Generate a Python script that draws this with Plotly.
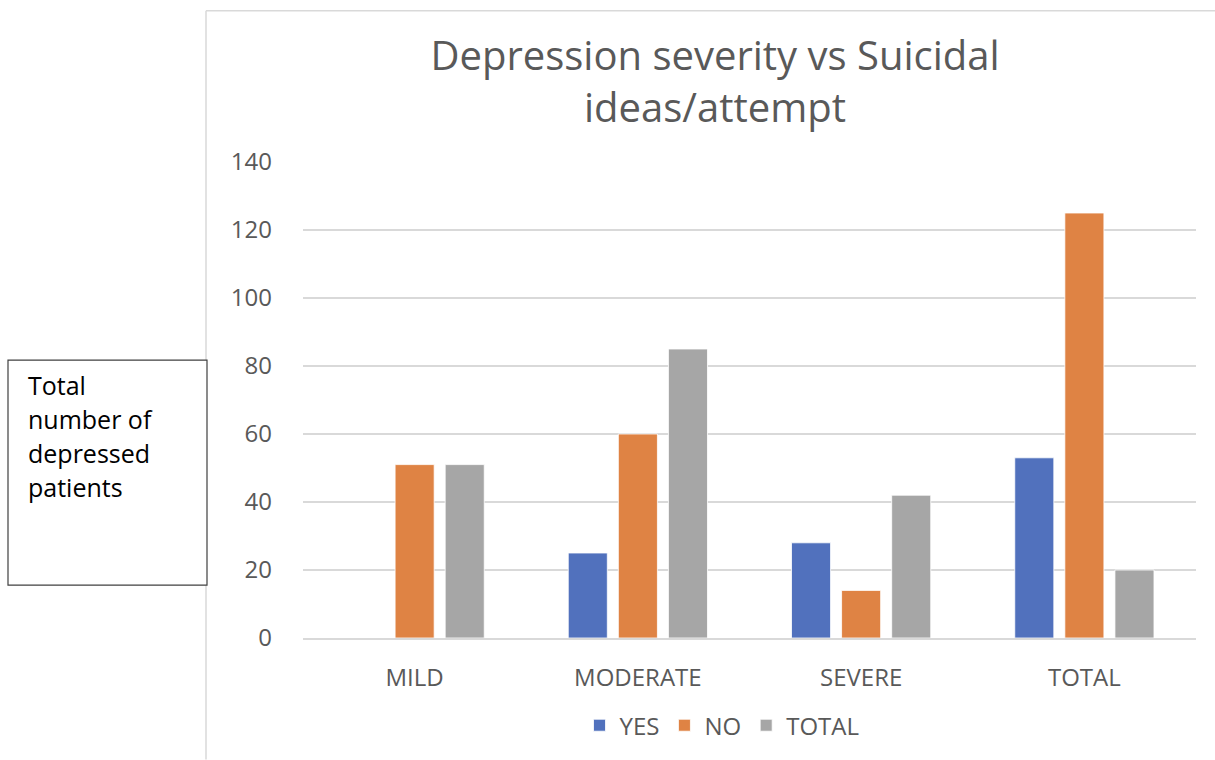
import plotly.graph_objects as go

# Depression severity groups and suicidal ideas/attempt counts
categories = ["MILD", "MODERATE", "SEVERE", "TOTAL"]
yes_counts = [0, 25, 28, 53]
no_counts = [51, 60, 14, 125]
total_counts = [51, 85, 42, 20]

series_names = ["YES", "NO", "TOTAL"]
series_colors = ["#5171BD", "#DF8344", "#A6A6A6"]

y_ticks = [0, 20, 40, 60, 80, 100, 120, 140]

box_lines = ["Total", "number of", "depressed", "patients"]

W, H = 1215, 760
L, R, T, B = 303, 19, 162, 120
pw, ph = W - L - R, H - T - B


def px_x(x):
    return (x - L) / pw


def px_y(y):
    return (H - B - y) / ph


TEXT = "#595959"
FONT = "Open Sans, DejaVu Sans, sans-serif"

fig = go.Figure()
for name, vals, col in zip(series_names, [yes_counts, no_counts, total_counts], series_colors):
    fig.add_trace(go.Bar(
        name=name, x=categories, y=vals,
        marker=dict(color=col, line=dict(color="white", width=0.8)),
    ))

fig.update_layout(
    width=W, height=H,
    margin=dict(l=L, r=R, t=T, b=B),
    paper_bgcolor="white", plot_bgcolor="white",
    barmode="group", bargap=0.327, bargroupgap=0.22,
    font=dict(family=FONT, color=TEXT),
    title=dict(
        text="Depression severity vs Suicidal<br>ideas/attempt",
        x=px_x(715), xanchor="center", xref="paper",
        y=1 - 70 / H, yanchor="middle", yref="container",
        font=dict(size=40, color=TEXT, family=FONT),
    ),
    xaxis=dict(
        showgrid=False, showline=True, linecolor="#D9D9D9", linewidth=1.5,
        ticks="", tickfont=dict(size=24, color=TEXT), ticklabelstandoff=17,
    ),
    yaxis=dict(
        range=[0, 140], tickvals=y_ticks, showgrid=True, gridcolor="#D9D9D9",
        gridwidth=1.5, zeroline=False, showline=False, ticks="",
        tickfont=dict(size=24, color=TEXT), ticklabelstandoff=30,
    ),
    showlegend=True,
    legend=dict(
        orientation="h", x=px_x(722), xanchor="center", y=px_y(728), yanchor="middle",
        font=dict(size=24, color=TEXT), itemwidth=30, bgcolor="rgba(0,0,0,0)",
        traceorder="normal",
    ),
)

# chart-area frame edges
fig.add_shape(type="line", xref="paper", yref="paper",
              x0=px_x(206), x1=px_x(206), y0=px_y(10), y1=px_y(762),
              line=dict(color="#D9D9D9", width=1.5))
fig.add_shape(type="line", xref="paper", yref="paper",
              x0=px_x(206), x1=px_x(1216), y0=px_y(10), y1=px_y(10),
              line=dict(color="#D9D9D9", width=1.5))

# axis caption box
fig.add_shape(type="rect", xref="paper", yref="paper",
              x0=px_x(8), x1=px_x(207), y0=px_y(361), y1=px_y(587),
              line=dict(color="#404040", width=1.2), fillcolor="white")
for i, line in enumerate(box_lines):
    fig.add_annotation(
        text=line, xref="paper", yref="paper", showarrow=False,
        x=px_x(26), xanchor="left", y=px_y(386 + 34 * i), yanchor="middle",
        font=dict(size=25, color="black", family=FONT),
    )

fig.write_html("out.html")
